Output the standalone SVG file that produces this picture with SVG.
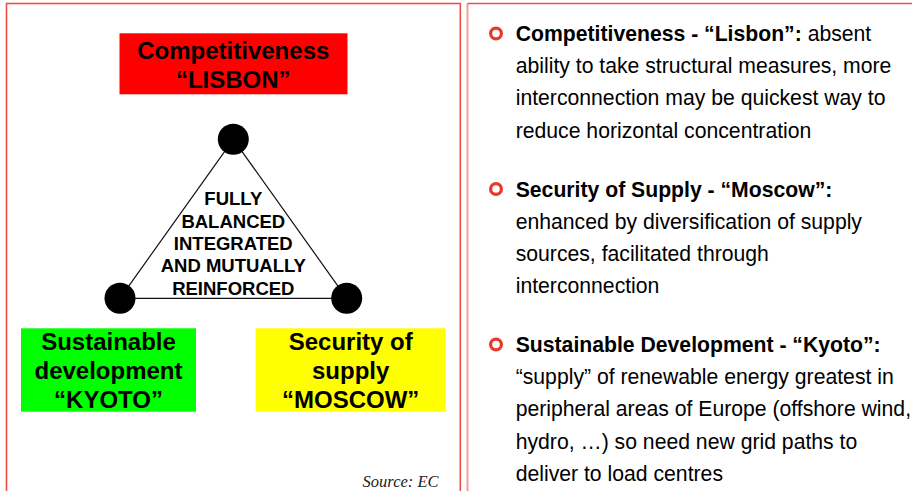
<svg xmlns="http://www.w3.org/2000/svg" width="912" height="491" viewBox="0 0 912 491">
  <style>
    .panel { fill: #ffffff; stroke: #ef4f45; stroke-width: 1.6; }
    .panel-soft { fill: none; stroke: #f3a09a; stroke-width: 2; }
    .box-label { font-family: "Liberation Sans", Arial, sans-serif; font-weight: bold; font-size: 24px; fill: #000000; text-anchor: middle; }
    .core { font-family: "Liberation Sans", Arial, sans-serif; font-weight: bold; font-size: 18.5px; fill: #000000; text-anchor: middle; }
    .body { font-family: "Liberation Sans", Arial, sans-serif; font-size: 21.2px; fill: #000000; }
    .body .b { font-weight: bold; }
    .bullet { fill: none; stroke: #e8392c; stroke-width: 3.2; }
    .edge { stroke: #111111; stroke-width: 1.2; fill: none; }
    .vertex { fill: #000000; }
    .source { font-family: "Liberation Serif", "Times New Roman", serif; font-style: italic; font-size: 16.5px; fill: #222222; text-anchor: end; }
  </style>

  <rect width="912" height="491" fill="#ffffff"/>

  <!-- two framed panels -->
  <rect class="panel" x="6.5" y="3.5" width="453.8" height="500"/>
  <line class="panel-soft" x1="467.5" y1="3.5" x2="467.5" y2="491"/>
  <line class="panel" x1="467.5" y1="3.5" x2="915" y2="3.5"/>

  <!-- triangle connectors -->
  <g id="connectors">
    <line class="edge" x1="233.3" y1="139.3" x2="120" y2="298.3"/>
    <line class="edge" x1="233.3" y1="139.3" x2="346.7" y2="298.3"/>
    <line class="edge" x1="120" y1="298.3" x2="346.7" y2="298.3" stroke-width="1.6"/>
  </g>

  <g id="vertex-top"><circle class="vertex" cx="233.3" cy="139.3" r="15.5"/></g>
  <g id="vertex-left"><circle class="vertex" cx="120" cy="298.3" r="15.5"/></g>
  <g id="vertex-right"><circle class="vertex" cx="346.7" cy="298.3" r="15.5"/></g>

  <g id="core-text">
    <text class="core" x="233.3" y="205">FULLY</text>
    <text class="core" x="233.3" y="227.5">BALANCED</text>
    <text class="core" x="233.3" y="250">INTEGRATED</text>
    <text class="core" x="233.3" y="272.3">AND MUTUALLY</text>
    <text class="core" x="233.3" y="294.5">REINFORCED</text>
  </g>

  <g id="competitiveness">
    <rect x="119.5" y="33.3" width="228" height="61" fill="#ff0000"/>
    <text class="box-label" x="233.3" y="58.5">Competitiveness</text>
    <text class="box-label" x="233.3" y="87.5">“LISBON”</text>
  </g>

  <g id="sustainable">
    <rect x="21" y="328.3" width="175" height="83.4" fill="#00ff00"/>
    <text class="box-label" x="108.5" y="349.5">Sustainable</text>
    <text class="box-label" x="108.5" y="378.5">development</text>
    <text class="box-label" x="108.5" y="407.5">“KYOTO”</text>
  </g>

  <g id="security">
    <rect x="255.7" y="328.3" width="190" height="83.4" fill="#ffff00"/>
    <text class="box-label" x="350.7" y="349.5">Security of</text>
    <text class="box-label" x="350.7" y="378.5">supply</text>
    <text class="box-label" x="350.7" y="407.5">“MOSCOW”</text>
  </g>

  <text class="source" x="438.5" y="487">Source: EC</text>

  <!-- bullet list -->
  <g id="point-lisbon">
    <circle class="bullet" cx="496" cy="33.5" r="5.4"/>
    <text class="body" x="515.7" y="40.7"><tspan class="b">Competitiveness - “Lisbon”:</tspan> absent</text>
    <text class="body" x="515.7" y="73">ability to take structural measures, more</text>
    <text class="body" x="515.7" y="105.3">interconnection may be quickest way to</text>
    <text class="body" x="515.7" y="137.6">reduce horizontal concentration</text>
  </g>

  <g id="point-moscow">
    <circle class="bullet" cx="496" cy="189" r="5.4"/>
    <text class="body" x="515.7" y="196.5"><tspan class="b">Security of Supply - “Moscow”:</tspan></text>
    <text class="body" x="515.7" y="228.8">enhanced by diversification of supply</text>
    <text class="body" x="515.7" y="261.1">sources, facilitated through</text>
    <text class="body" x="515.7" y="293.4">interconnection</text>
  </g>

  <g id="point-kyoto">
    <circle class="bullet" cx="496" cy="344.5" r="5.4"/>
    <text class="body" x="515.7" y="351.7"><tspan class="b">Sustainable Development - “Kyoto”:</tspan></text>
    <text class="body" x="515.7" y="384">“supply” of renewable energy greatest in</text>
    <text class="body" x="515.7" y="416.3">peripheral areas of Europe (offshore wind,</text>
    <text class="body" x="515.7" y="448.6">hydro, …) so need new grid paths to</text>
    <text class="body" x="515.7" y="480.9">deliver to load centres</text>
  </g>
</svg>
